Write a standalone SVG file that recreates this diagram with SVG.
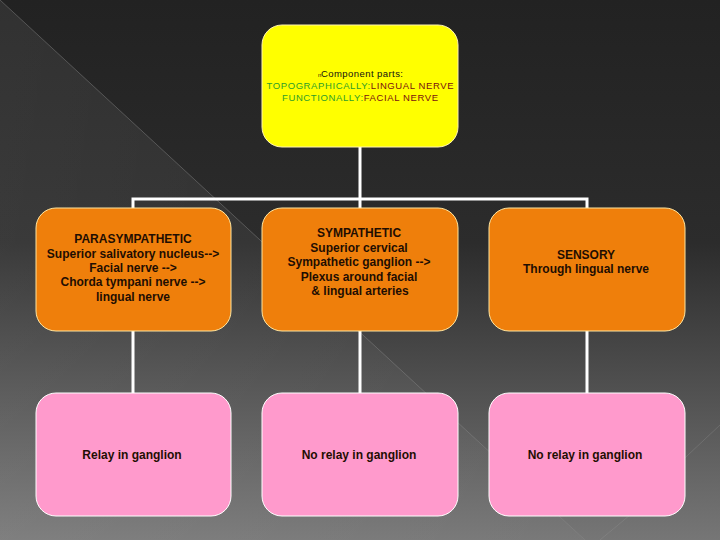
<svg xmlns="http://www.w3.org/2000/svg" width="720" height="540" viewBox="0 0 720 540">
<defs>
<linearGradient id="bg" x1="0" y1="0" x2="0" y2="1">
<stop offset="0" stop-color="#222222"/>
<stop offset="0.45" stop-color="#2c2c2c"/>
<stop offset="1" stop-color="#767676"/>
</linearGradient>
<linearGradient id="tri" x1="0" y1="0" x2="1" y2="0">
<stop offset="0" stop-color="#ffffff" stop-opacity="0.07"/>
<stop offset="1" stop-color="#ffffff" stop-opacity="0.02"/>
</linearGradient>
<style>
.conn{stroke:#ffffff;stroke-width:3;fill:none}
.top{fill:#ffff00;stroke:#fff3b0;stroke-width:1}
.mid{fill:#ef7f0b;stroke:#ffe6a0;stroke-width:1}
.bot{fill:#ff9acc;stroke:#ffffff;stroke-width:1}
.t{font-family:"Liberation Sans",Arial,sans-serif;font-size:12px;font-weight:bold;fill:#1f0e02;text-anchor:middle}
.s{font-family:"Liberation Sans",Arial,sans-serif;font-size:9.5px;text-anchor:middle}
.g{fill:#2e9e2a}
.r{fill:#7a1010}
</style>
</defs>
<rect width="720" height="540" fill="url(#bg)"/>
<polygon points="0,0 585,540 0,540" fill="url(#tri)"/>
<line x1="0" y1="0" x2="585" y2="540" stroke="#8a8a8a" stroke-opacity="0.45" stroke-width="1"/>
<line x1="720" y1="425" x2="640" y2="500" stroke="#999" stroke-opacity="0.3" stroke-width="1"/>
<line x1="600" y1="540" x2="660" y2="490" stroke="#999" stroke-opacity="0.3" stroke-width="1"/>
<g id="connectors">
<path class="conn" d="M360,147 V199 M133,208 V199 H587 V208 M360,199 V208"/>
<path class="conn" d="M133,331 V393 M360,331 V393 M587,331 V393"/>
</g>
<g id="top">
<rect class="top" x="262" y="25" width="196" height="122" rx="20"/>
<text x="318" y="77" font-family="Liberation Sans,Arial,sans-serif" font-size="6" fill="#1a0c00">n</text>
<text class="s" x="362" y="77" font-size="10" fill="#111" textLength="82" lengthAdjust="spacing">Component parts:</text>
<text class="s" x="360" y="89" textLength="187" lengthAdjust="spacing"><tspan class="g">TOPOGRAPHICALLY:</tspan><tspan class="r">LINGUAL NERVE</tspan></text>
<text class="s" x="360" y="101" textLength="156" lengthAdjust="spacing"><tspan class="g">FUNCTIONALLY:</tspan><tspan class="r">FACIAL NERVE</tspan></text>
</g>
<g id="para">
<rect class="mid" x="36" y="208" width="195" height="123" rx="20"/>
<text class="t" x="133" y="243">PARASYMPATHETIC</text>
<text class="t" x="133" y="258">Superior salivatory nucleus--&gt;</text>
<text class="t" x="133" y="272">Facial nerve --&gt;</text>
<text class="t" x="133" y="286">Chorda tympani nerve --&gt;</text>
<text class="t" x="133" y="301">lingual nerve</text>
</g>
<g id="symp">
<rect class="mid" x="262" y="208" width="196" height="123" rx="20"/>
<text class="t" x="359" y="237">SYMPATHETIC</text>
<text class="t" x="359" y="252">Superior cervical</text>
<text class="t" x="359" y="266">Sympathetic ganglion --&gt;</text>
<text class="t" x="359" y="281">Plexus around facial</text>
<text class="t" x="360" y="295">&amp; lingual arteries</text>
</g>
<g id="sens">
<rect class="mid" x="489" y="208" width="196" height="123" rx="20"/>
<text class="t" x="586" y="259">SENSORY</text>
<text class="t" x="586" y="273">Through lingual nerve</text>
</g>
<g id="relay">
<rect class="bot" x="36" y="393" width="195" height="123" rx="20"/>
<text class="t" x="132" y="459">Relay in ganglion</text>
</g>
<g id="norelay1">
<rect class="bot" x="262" y="393" width="196" height="123" rx="20"/>
<text class="t" x="359" y="459">No relay in ganglion</text>
</g>
<g id="norelay2">
<rect class="bot" x="489" y="393" width="196" height="123" rx="20"/>
<text class="t" x="585" y="459">No relay in ganglion</text>
</g>
</svg>
